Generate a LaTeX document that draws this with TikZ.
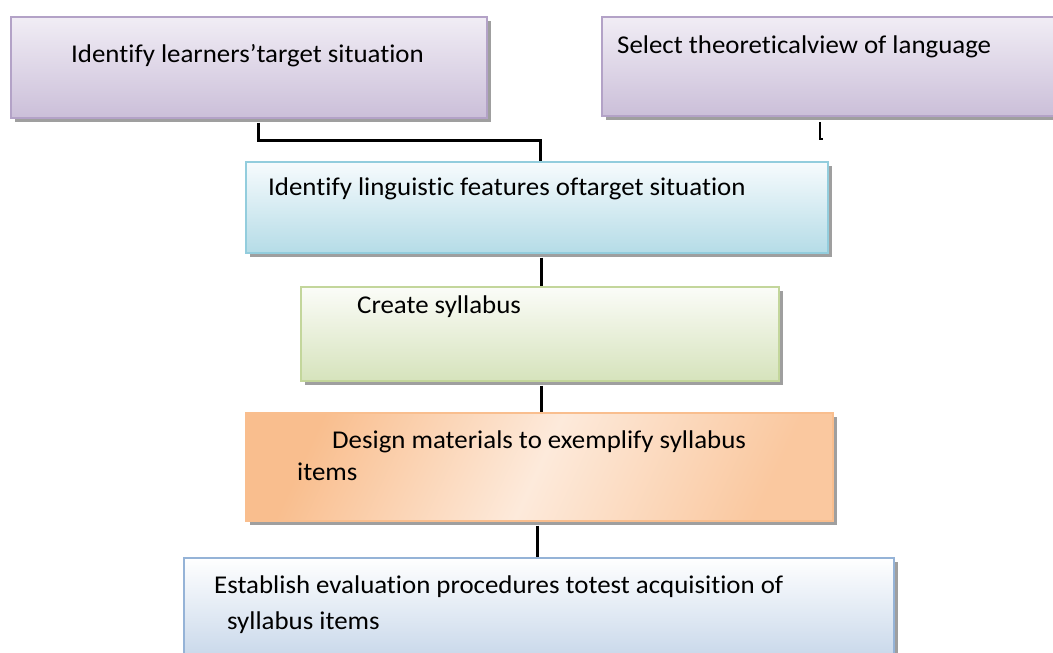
\documentclass[tikz,border=0pt]{standalone}
\usepackage{fontspec}
\setmainfont[Ligatures=NoCommon,FakeStretch=1.05]{Carlito}
\usetikzlibrary{shadows}
\definecolor{purT}{HTML}{F1EDF5}
\definecolor{purB}{HTML}{CBBFD9}
\definecolor{purD}{HTML}{B3A2C7}
\definecolor{bluT}{HTML}{F7FBFD}
\definecolor{bluB}{HTML}{B5DCE7}
\definecolor{bluD}{HTML}{93CDDD}
\definecolor{grnT}{HTML}{FBFCF8}
\definecolor{grnB}{HTML}{D6E3BC}
\definecolor{grnD}{HTML}{C3D69B}
\definecolor{orgD}{HTML}{F9BE8E}
\definecolor{orgL}{HTML}{FDEADB}
\definecolor{slaT}{HTML}{FFFFFF}
\definecolor{slaB}{HTML}{B8CCE4}
\definecolor{slaD}{HTML}{95B3D7}
\tikzset{
  box/.style={draw, line width=1.5pt, anchor=north west, inner sep=0pt,
    drop shadow={shadow xshift=4pt, shadow yshift=-4pt, fill=gray!75, opacity=1}},
  txt/.style={anchor=base west, inner sep=0pt, font=\fontsize{25.6}{30}\selectfont},
  conn/.style={draw=black, line width=3pt}
}
\begin{document}
\begin{tikzpicture}[x=1pt,y=-1pt]
\useasboundingbox (0,0) rectangle (1053,653);
\clip (0,0) rectangle (1053,653);
\fill[white] (0,0) rectangle (1053,653);

\node[box, draw=purD, top color=purT, bottom color=purB, minimum width=476pt, minimum height=101pt] (b1) at (10,16) {};
\node[box, draw=purD, top color=purT, bottom color=purB, minimum width=480pt, minimum height=99pt] (b2) at (601,16) {};
\node[box, draw=bluD, top color=bluT, bottom color=bluB, minimum width=582pt, minimum height=91pt] (b3) at (245,161) {};
\node[box, draw=grnD, top color=grnT, bottom color=grnB, minimum width=478pt, minimum height=94pt] (b4) at (300,286) {};
\node[box, draw=orgD, left color=orgD, right color=orgD!85, middle color=orgL, shading angle=65, minimum width=587pt, minimum height=108pt] (b5) at (245,412) {};
\node[box, draw=slaD, top color=slaT, bottom color=slaB, minimum width=710pt, minimum height=130pt] (b6) at (183,557) {};

\node[txt] (t1) at (71,62) {Identify learners’target situation};
\node[txt] (t2) at (617,53) {Select theoreticalview of language};
\node[txt] (t3) at (268,195) {Identify linguistic features oftarget situation};
\node[txt] (t4) at (357,313) {Create syllabus};
\node[txt] (t5a) at (332,448) {Design materials to exemplify syllabus};
\node[txt] (t5b) at (297,480) {items};
\node[txt] (t6a) at (214,593) {Establish evaluation procedures totest acquisition of};
\node[txt] (t6b) at (227,629) {syllabus items};

\coordinate (j1) at (258,140);
\coordinate (j2) at (540,140);
\coordinate (xa) at (541,0);
\coordinate (xb) at (537,0);
\draw[conn] ([yshift=-4pt]b1.south -| j1) -- (j1) -- (j2) -- (b3.north -| j2);
\draw[conn] ([yshift=-4pt]b3.south -| xa) -- (b4.north -| xa);
\draw[conn] ([yshift=-4pt]b4.south -| xa) -- (b5.north -| xa);
\draw[conn] ([yshift=-4pt]b5.south -| xb) -- (b6.north -| xb);

\coordinate (m1) at (820,122);
\coordinate (m2) at (820,139);
\draw[line width=2.5pt] (m1) -- (m2) -- ++(3,0);
\end{tikzpicture}
\end{document}
